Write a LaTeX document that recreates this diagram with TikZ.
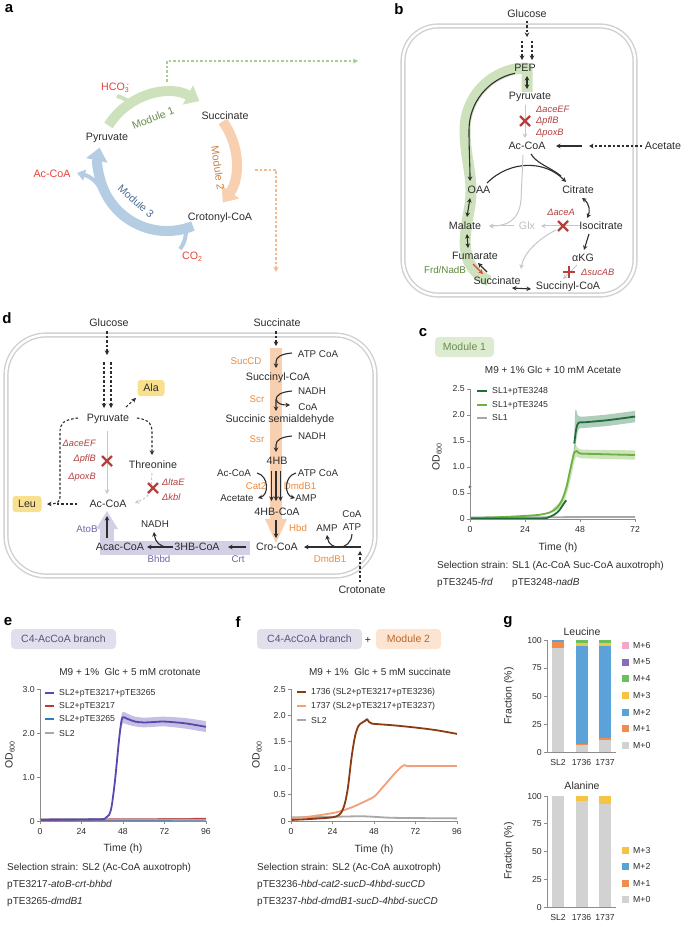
\documentclass[tikz,border=0pt]{standalone}
\usepackage{fontspec}
\setmainfont{Liberation Sans}
\usetikzlibrary{arrows.meta,calc}
\definecolor{txt}{HTML}{2E2E2E}
\definecolor{delred}{HTML}{B5403E}
\definecolor{hotred}{HTML}{E8433A}
\definecolor{enzor}{HTML}{EE8A3C}
\definecolor{purtxt}{HTML}{6E66A8}
\definecolor{gband}{HTML}{CDE2BC}
\definecolor{oband}{HTML}{F8CFAF}
\definecolor{bband}{HTML}{B5CDE3}
\definecolor{pband}{HTML}{D3CFE4}
\definecolor{m1txt}{HTML}{6A8C4C}
\definecolor{m2txt}{HTML}{C98543}
\definecolor{m3txt}{HTML}{4E6E95}
\definecolor{gdash}{HTML}{A9CD8F}
\definecolor{odash}{HTML}{F5BA8E}
\definecolor{cellc}{HTML}{D0D0D0}
\definecolor{ylw}{HTML}{F8E08E}
\definecolor{frdtxt}{HTML}{5F8A3E}
\definecolor{axc}{HTML}{8C8C8C}
\definecolor{dgreen}{HTML}{1E6D3B}
\definecolor{lgreen}{HTML}{6DB13F}
\definecolor{slgray}{HTML}{A8A8A8}
\definecolor{purp}{HTML}{5849B0}
\definecolor{lred}{HTML}{C8323A}
\definecolor{lblue}{HTML}{2D7DBF}
\definecolor{brwn}{HTML}{8C3A12}
\definecolor{salm}{HTML}{F2A07C}
\definecolor{m1box}{HTML}{DDEBD1}
\definecolor{c4box}{HTML}{E2DFEC}
\definecolor{c4txt}{HTML}{55557A}
\definecolor{m2box}{HTML}{FCE4D1}
\definecolor{m2btxt}{HTML}{B8692C}
\definecolor{qm0}{HTML}{D2D2D2}
\definecolor{qm1}{HTML}{F08C4E}
\definecolor{qm2}{HTML}{5AA2D8}
\definecolor{qm3}{HTML}{F5C445}
\definecolor{qm4}{HTML}{6DBE5C}
\definecolor{qm5}{HTML}{8A6BB8}
\definecolor{qm6}{HTML}{F2A8CB}
\newcommand\sbs[1]{\raisebox{-2.2pt}{\fontsize{7}{7}\selectfont #1}}
\tikzset{
 met/.style={font=\fontsize{10.7}{12}\selectfont,text=txt,inner sep=1pt},
 sml/.style={font=\fontsize{9.8}{11}\selectfont,text=txt,inner sep=1pt},
 enz/.style={font=\fontsize{9.7}{11}\selectfont,text=enzor,inner sep=1pt},
 pen/.style={font=\fontsize{9.7}{11}\selectfont,text=purtxt,inner sep=1pt},
 del/.style={font=\fontsize{9.3}{11}\selectfont\itshape,text=delred,inner sep=1pt},
 plab/.style={font=\fontsize{15}{16}\selectfont\bfseries,inner sep=0pt,text=black},
 arr/.style={draw=txt,line width=1.1pt,-{Stealth[length=4.5pt,width=4.5pt]}},
 darr/.style={draw=txt,line width=1.1pt,{Stealth[length=4.5pt,width=4.5pt]}-{Stealth[length=4.5pt,width=4.5pt]}},
 garr/.style={draw=black!22,line width=1pt,-{Stealth[length=4.5pt,width=4.5pt]}},
 dsh/.style={dash pattern=on 2.5pt off 2pt},
 cell/.style={draw=cellc,line width=1.4pt,double=white,double distance=2.4pt},
 axln/.style={draw=axc,line width=0.9pt},
 tk/.style={font=\fontsize{8.7}{10}\selectfont,text=txt,inner sep=1pt},
 leg/.style={font=\fontsize{8.7}{10}\selectfont,text=txt,inner sep=1pt,anchor=west},
 gtitle/.style={font=\fontsize{10}{12}\selectfont,text=txt,inner sep=1pt},
 axl/.style={font=\fontsize{10.5}{12}\selectfont,text=txt,inner sep=1pt},
 captxt/.style={font=\fontsize{10}{12}\selectfont,text=txt,inner sep=1pt,anchor=west},
 tagbox/.style={font=\fontsize{10.5}{12}\selectfont,rounded corners=4pt,inner sep=0pt,minimum height=20pt},
 redx/.pic={\draw[delred,line width=2.4pt] (-5,-5) -- (5,5) (-5,5) -- (5,-5);},
 redplus/.pic={\draw[delred,line width=2.4pt] (0,-6) -- (0,6) (-6,0) -- (6,0);},
}
\begin{document}
\begin{tikzpicture}[x=1pt,y=-1pt,line join=round]
\useasboundingbox (0,0) rectangle (685,925);
\fill[white] (0,0) rectangle (685,925);

% ================= panel a =================
\node[plab] (la) at (9,9) {a};
\coordinate (ca) at (167,162);
\draw[gdash,line width=1.3pt,dsh,-{Stealth[length=5pt,width=5pt]}] (167,82) -- (167,61) -- (358,61);
\draw[odash,line width=1.3pt,dsh,-{Stealth[length=5pt,width=5pt]}] (255,170) -- (276,170) -- (276,272);
\draw[gband,line width=4pt] (117,96) .. controls (124,98) and (129,101) .. (134,106);
\draw[bband,line width=4pt] (180,249) .. controls (184,244) and (186,238) .. (186,230);
\draw[bband,line width=4pt,-{Triangle[width=11pt,length=8pt]}] (101,190) .. controls (97,182) and (92,177) .. (77,173);
\draw[gband,line width=10pt,-{Triangle[width=21pt,length=13pt]}] ($(ca)+(212:69)$) arc[start angle=212,end angle=298,radius=69];
\draw[oband,line width=10pt,-{Triangle[width=21pt,length=13pt]}] ($(ca)+(-36:69)$) arc[start angle=-36,end angle=36,radius=69];
\draw[bband,line width=10pt,-{Triangle[width=21pt,length=13pt]}] ($(ca)+(68:69)$) arc[start angle=68,end angle=192,radius=69];
\node[met,text=hotred] (hco) at (115,88) {HCO\sbs{3}\makebox[0pt][r]{\raisebox{4.5pt}{\fontsize{7}{7}\selectfont -}}};
\node[met] (succA) at (225,116) {Succinate};
\node[met] (pyrA) at (107,138) {Pyruvate};
\node[met,text=hotred] (accoaA) at (52,174) {Ac-CoA};
\node[met] (crotA) at (220,218) {Crotonyl-CoA};
\node[met,text=hotred] (co2) at (192,257) {CO\sbs{2}};
\node[met,text=m1txt,rotate=21] (mod1) at (153,118) {Module 1};
\node[met,text=m2txt,rotate=-82] (mod2) at (218,168) {Module 2};
\node[met,text=m3txt,rotate=-42] (mod3) at (136,201) {Module 3};

% ================= panel b =================
\node[plab] (lb) at (399,9) {b};
\draw[cell,rounded corners=35pt] (403,26) rectangle (635,295);
\draw[gband,line width=11pt] (527,92) -- (527,68) arc[start angle=270,end angle=180,radius=62] .. controls (465,160) and (474,178) .. (470,205) .. controls (466,228) and (462,246) .. (469,262) .. controls (474,272) and (481,277) .. (489,281);
\node[met] (glucB) at (527,14) {Glucose};
\node[met] (pep) at (525,68) {PEP};
\node[met] (pyrB) at (530,97) {Pyruvate};
\node[met] (accoaB) at (527,146) {Ac-CoA};
\node[met] (acetB) at (663,146) {Acetate};
\node[met] (oaa) at (479,190) {OAA};
\node[met] (citr) at (578,190) {Citrate};
\node[met] (mal) at (465,226) {Malate};
\node[met,text=black!25] (glx) at (527,226) {Glx};
\node[met] (isoc) at (601,226) {Isocitrate};
\node[met] (fum) at (475,256) {Fumarate};
\node[met] (akg) at (583,258) {αKG};
\node[met] (succB) at (497,281) {Succinate};
\node[met] (succoaB) at (568,287) {Succinyl-CoA};
\node[sml,text=frdtxt] (frd) at (445,270) {Frd/NadB};
\node[del,anchor=west] (dB1) at (535,109) {ΔaceEF};
\node[del,anchor=west] (dB2) at (535,121) {ΔpflB};
\node[del,anchor=west] (dB3) at (535,133) {ΔpoxB};
\node[del] (dB4) at (561,212) {ΔaceA};
\node[del,anchor=west] (dB5) at (580,272) {ΔsucAB};
\draw[arr,dsh] (527,21) -- (527,37);
\draw[arr,dsh] (522,41) -- (522,60);
\draw[arr,dsh] (532,41) -- (532,60);
\draw[darr] (527,76) -- (527,89);
\draw[garr] (525,105) -- (525,138);
\pic at (525,121) {redx};
\draw[arr] (582,146) -- (556,146);
\draw[arr,dsh] (642,146) -- (589,146);
\draw[arr] ($(527,130)+(258:58)$) arc[start angle=258,end angle=180,radius=58] .. controls (469,150) and (470,166) .. (470,181);
\draw[arr] (487,183) .. controls (510,160) and (545,160) .. (566,182);
\draw[draw=txt,line width=1.1pt] (531,154) .. controls (537,164) and (550,167) .. (561,176);
\draw[garr] (523,155) -- (521,200) .. controls (519,222) and (505,226) .. (489,226);
\draw[garr] (514,226) -- (489,226);
\draw[garr] (580,226) -- (541,226);
\pic at (563,226) {redx};
\draw[garr] (556,230) .. controls (536,240) and (523,255) .. (521,269);
\draw[darr] (582,198) .. controls (590,204) and (590,212) .. (587,218);
\draw[arr] (589,234) -- (584,250);
\draw[garr] (577,265) -- (563,279);
\pic at (569,272) {redplus};
\draw[darr] (512,288) -- (531,289);
\draw[darr] (470,198) -- (467,217);
\draw[darr] (467,234) -- (468,248);
\draw[arr] (487,272) -- (478,263);
\draw[hotred,line width=1.1pt,-{Stealth[length=4.5pt,width=4.5pt]}] (473,264) -- (483,274);

% ================= panel d =================
\node[plab] (ld) at (7,318) {d};
\draw[cell,rounded corners=40pt] (6,335) rectangle (375,576);
\fill[oband] (270,348) rectangle (282,521);
\fill[oband] (265,519) -- (287,519) -- (276,543) -- cycle;
\fill[pband] (100,541) rectangle (250,555);
\fill[pband] (100,527) rectangle (114,555);
\fill[pband] (96,529) -- (118,529) -- (107,511) -- cycle;
\node[met] (glucD) at (109,323) {Glucose};
\node[met,fill=ylw,rounded corners=3pt,minimum width=27pt,minimum height=16pt] (ala) at (151,388) {Ala};
\node[met] (pyrD) at (108,419) {Pyruvate};
\node[met] (thr) at (153,465) {Threonine};
\node[met,fill=ylw,rounded corners=3pt,minimum width=29pt,minimum height=16pt] (leu) at (27,504) {Leu};
\node[met] (accoaD) at (108,504) {Ac-CoA};
\node[sml] (nadhD1) at (155,524) {NADH};
\node[met] (acac) at (120,547) {Acac-CoA};
\node[met] (hbcoa) at (197,547) {3HB-CoA};
\node[met] (crocoa) at (277,547) {Cro-CoA};
\node[pen] (atob) at (87,529) {AtoB};
\node[pen] (bhbd) at (159,559) {Bhbd};
\node[pen] (crt) at (238,559) {Crt};
\node[met] (succD) at (277,323) {Succinate};
\node[sml] (atpcoa1) at (318,354) {ATP CoA};
\node[enz] (succd) at (246,361) {SucCD};
\node[met] (succoaD) at (278,378) {Succinyl-CoA};
\node[sml] (nadh2) at (312,391) {NADH};
\node[sml] (coa2) at (308,407) {CoA};
\node[enz] (scr) at (257,399) {Scr};
\node[met] (ssa) at (280,420) {Succinic semialdehyde};
\node[sml] (nadh3) at (312,436) {NADH};
\node[enz] (ssr) at (257,439) {Ssr};
\node[met] (hb4) at (277,461) {4HB};
\node[sml] (accoa3) at (234,473) {Ac-CoA};
\node[sml] (atpcoa2) at (318,473) {ATP CoA};
\node[enz] (cat2) at (256,486) {Cat2};
\node[enz] (dmdba) at (300,486) {DmdB1};
\node[sml] (acetD) at (237,498) {Acetate};
\node[sml] (amp1) at (306,498) {AMP};
\node[met] (hbcoa4) at (277,512) {4HB-CoA};
\node[enz] (hbd) at (298,528) {Hbd};
\node[sml] (amp2) at (327,528) {AMP};
\node[sml] (coa3) at (352,514) {CoA};
\node[sml] (atp3) at (352,527) {ATP};
\node[enz] (dmdbb) at (330,559) {DmdB1};
\node[met] (crotD) at (362,590) {Crotonate};
\node[del,anchor=east] (dD1) at (97,443) {ΔaceEF};
\node[del,anchor=east] (dD2) at (97,459) {ΔpflB};
\node[del,anchor=east] (dD3) at (97,477) {ΔpoxB};
\node[del,anchor=west] (dD4) at (161,482) {ΔltaE};
\node[del,anchor=west] (dD5) at (161,497) {Δkbl};
\draw[arr,dsh] (107,331) -- (107,355);
\draw[arr,dsh] (104,362) -- (104,408);
\draw[arr,dsh] (111,362) -- (111,408);
\draw[arr,dsh] (126,407) -- (136,398);
\draw[arr,dsh] (78,418) .. controls (63,420) and (60,423) .. (60,433) -- (60,497) .. controls (60,502) and (57,504) .. (47,504);
\draw[draw=txt,line width=1.1pt,dsh] (77,504) -- (56,504);
\draw[arr,dsh] (137,418) .. controls (150,420) and (152,424) .. (152,433) -- (152,455);
\draw[garr] (107,431) -- (107,494);
\pic at (107,461) {redx};
\draw[garr,dsh] (152,473) -- (151,489) .. controls (150,495) and (145,499) .. (135,503);
\pic at (153,488) {redx};
\draw[arr] (107,538) -- (107,516);
\draw[arr] (173,547) -- (147,547);
\draw[arr] (168,547) .. controls (160,547) and (155,542) .. (154,532);
\draw[arr] (246,547) -- (228,547);
\draw[arr] (361,547) -- (304,547);
\draw[arr] (352,534) .. controls (351,551) and (329,551) .. (327,535);
\draw[arr,dsh] (360,582) -- (360,551);
\draw[arr,dsh] (276,331) -- (276,346);
\draw[arr] (292,353) .. controls (281,354) and (276,357) .. (276,362) -- (276,368);
\draw[arr] (292,391) .. controls (281,392) and (276,395) .. (276,400) -- (276,411);
\draw[arr] (276,399) .. controls (277,404) and (282,405) .. (290,405);
\draw[arr] (292,436) .. controls (281,437) and (276,440) .. (276,445) -- (276,452);
\draw[arr] (271.5,471) -- (271.5,501);
\draw[arr] (276,471) -- (276,501);
\draw[arr] (280.5,471) -- (280.5,501);
\draw[arr] (257,473) .. controls (269,476) and (269,495) .. (258,498);
\draw[arr] (296,473) .. controls (284,476) and (284,495) .. (295,498);
\draw[arr] (276,520) -- (276,538);

% ================= panel c =================
\node[plab] (lc) at (423,333) {c};
\node[tagbox,fill=m1box,text=m1txt,minimum width=59pt] (m1c) at (464.5,347) {Module 1};
\node[gtitle] (tc) at (553,370) {M9 + 1\% Glc + 10 mM Acetate};
\begin{scope}[shift={(470,519)},x=2.2917pt,y=52pt]
 \fill[lgreen,opacity=0.35] plot[smooth,tension=0.5] coordinates {(36,0.2)(39,0.32)(41,0.5)(43,0.85)(44.5,1.15)(45.5,1.42)(46.5,1.4)(48,1.34)(55,1.33)(72,1.32)} -- plot[smooth,tension=0.5] coordinates {(72,1.14)(55,1.16)(48,1.17)(46.5,1.2)(45.5,1.1)(44.5,0.88)(43,0.6)(41,0.33)(39,0.2)(36,0.12)} -- cycle;
 \fill[dgreen,opacity=0.35] plot[smooth,tension=0.5] coordinates {(45.5,1.55)(46,2.1)(47.3,1.98)(50,1.97)(60,2.01)(72,2.08)} -- plot[smooth,tension=0.5] coordinates {(72,1.86)(60,1.79)(50,1.75)(47.3,1.72)(46,1.4)(45.5,1.3)} -- cycle;
 \draw[slgray,line width=1.8pt] (0,0.03) -- (72,0.04);
 \draw[lgreen,line width=1.8pt] plot[smooth,tension=0.5] coordinates {(0,0.02)(10,0.03)(20,0.05)(30,0.08)(35,0.13)(38,0.22)(40,0.35)(42,0.6)(43.5,0.9)(44.5,1.1)(45.5,1.28)(46.5,1.31)(48,1.26)(55,1.25)(72,1.23)};
 \draw[dgreen,line width=1.8pt] plot[smooth,tension=0.5] coordinates {(0,0.01)(30,0.01)(34,0.03)(37,0.09)(39,0.17)(41,0.3)(42,0.36)};
 \draw[dgreen,line width=1.8pt] plot[smooth,tension=0.5] coordinates {(45.5,1.45)(46.3,1.72)(47.3,1.85)(50,1.86)(60,1.9)(72,1.97)};
 \fill[dgreen] (0,0.62) circle (1.5pt);
 \draw[axln] (0,2.5) -- (0,0) -- (72,0);
 \foreach \v/\l in {0/0,0.5/0.5,1/1.0,1.5/1.5,2/2.0,2.5/2.5} {\draw[axln] (0,\v) -- ++(-3pt,0); \node[tk,anchor=east] at ([xshift=-4pt]0,\v) {\l};}
 \foreach \t in {0,24,48,72} {\draw[axln] (\t,0) -- ++(0,-3pt); \node[tk,anchor=north] at ([yshift=-6pt]\t,0) {\t};}
\end{scope}
\draw[dgreen,line width=2.5pt] (477,391) -- (487,391);
\draw[lgreen,line width=2.5pt] (477,405) -- (487,405);
\draw[slgray,line width=2.5pt] (477,418) -- (487,418);
\node[leg] (lc1) at (491,391) {SL1+pTE3248};
\node[leg] (lc2) at (491,405) {SL1+pTE3245};
\node[leg] (lc3) at (491,418) {SL1};
\node[axl,rotate=90] (odc) at (437,457) {OD\sbs{600}};
\node[axl] (timec) at (558,548) {Time (h)};
\node[captxt] (capc1) at (436,566) {Selection strain: SL1 (Ac-CoA Suc-CoA auxotroph)};
\node[captxt] (capc2) at (436,583) {pTE3245-\textit{frd}};
\node[captxt] (capc3) at (511,583) {pTE3248-\textit{nadB}};

% ================= panel e =================
\node[plab] (le) at (8,622) {e};
\node[tagbox,fill=c4box,text=c4txt,minimum width=105pt] (c4e) at (63.5,639) {C4-AcCoA branch};
\node[gtitle] (te) at (130,672) {M9 + 1\%\ \ Glc + 5 mM crotonate};
\begin{scope}[shift={(40,821)},x=1.729pt,y=44pt]
 \fill[purp,opacity=0.35] plot[smooth,tension=0.5] coordinates {(43.4,1.05)(45.7,1.95)(47,2.38)(48,2.48)(50,2.45)(55,2.37)(60,2.35)(66,2.36)(72,2.37)(84,2.34)(96,2.27)} -- plot[smooth,tension=0.5] coordinates {(96,2.02)(84,2.1)(72,2.15)(66,2.14)(60,2.13)(55,2.15)(50,2.2)(48,2.22)(47,2.1)(45.7,1.72)(43.4,0.8)} -- cycle;
 \draw[lblue,line width=1.8pt] (0,0.02) -- (96,0.02);
 \draw[lred,line width=1.8pt] (0,0.03) -- (60,0.04) -- (96,0.05);
 \draw[slgray,line width=1.8pt] (0,0.04) -- (96,0.03);
 \draw[purp,line width=1.8pt] plot[smooth,tension=0.5] coordinates {(0,0.03)(34,0.04)(38,0.07)(40,0.14)(41.5,0.35)(43.4,0.93)(45.7,1.84)(47,2.25)(48,2.36)(50,2.33)(55,2.26)(60,2.24)(66,2.25)(72,2.26)(84,2.22)(96,2.14)};
 \draw[axln] (0,3) -- (0,0) -- (96,0);
 \foreach \v/\l in {0/0,1/1.0,2/2.0,3/3.0} {\draw[axln] (0,\v) -- ++(-3pt,0); \node[tk,anchor=east] at ([xshift=-4pt]0,\v) {\l};}
 \foreach \t in {0,24,48,72,96} {\draw[axln] (\t,0) -- ++(0,-3pt); \node[tk,anchor=north] at ([yshift=-6pt]\t,0) {\t};}
\end{scope}
\draw[purp,line width=2.5pt] (45,693) -- (54,693);
\draw[lred,line width=2.5pt] (45,706) -- (54,706);
\draw[lblue,line width=2.5pt] (45,719) -- (54,719);
\draw[slgray,line width=2.5pt] (45,733) -- (54,733);
\node[leg] (le1) at (58,693) {SL2+pTE3217+pTE3265};
\node[leg] (le2) at (58,706) {SL2+pTE3217};
\node[leg] (le3) at (58,719) {SL2+pTE3265};
\node[leg] (le4) at (58,733) {SL2};
\node[axl,rotate=90] (ode) at (10,755) {OD\sbs{600}};
\node[axl] (timee) at (123,849) {Time (h)};
\node[captxt] (cape1) at (6,868) {Selection strain: SL2 (Ac-CoA auxotroph)};
\node[captxt] (cape2) at (6,885) {pTE3217-\textit{atoB-crt-bhbd}};
\node[captxt] (cape3) at (6,902) {pTE3265-\textit{dmdB1}};

% ================= panel f =================
\node[plab] (lf) at (238,622) {f};
\node[tagbox,fill=c4box,text=c4txt,minimum width=105pt] (c4f) at (309.5,639) {C4-AcCoA branch};
\node[axl] (plusf) at (368,640) {+};
\node[tagbox,fill=m2box,text=m2btxt,minimum width=65pt] (m2f) at (408.5,639) {Module 2};
\node[gtitle] (tf) at (380,672) {M9 + 1\%\ \ Glc + 5 mM succinate};
\begin{scope}[shift={(291,821)},x=1.729pt,y=52.8pt]
 \draw[slgray,line width=1.8pt] plot[smooth,tension=0.5] coordinates {(0,0.07)(24,0.08)(40,0.09)(48,0.08)(60,0.06)(96,0.05)};
 \draw[salm,line width=1.8pt] plot[smooth,tension=0.5] coordinates {(0,0.05)(12,0.09)(24,0.15)(30,0.2)(36,0.27)(42,0.36)(48,0.46)(52,0.6)(56,0.75)(60,0.9)(64,1.03)(65.5,1.06)(67,1.04)(72,1.04)(96,1.04)};
 \draw[brwn,line width=1.8pt] plot[smooth,tension=0.5] coordinates {(0,0.02)(12,0.04)(24,0.07)(28,0.12)(30,0.22)(31.5,0.38)(33,0.65)(35,1.2)(37,1.6)(39,1.8)(41,1.86)(43,1.9)(44,1.93)(45,1.88)(46.5,1.85)(48,1.84)(60,1.81)(72,1.77)(84,1.72)(96,1.65)};
 \draw[axln] (0,2.5) -- (0,0) -- (96,0);
 \foreach \v/\l in {0/0,0.5/0.5,1/1.0,1.5/1.5,2/2.0,2.5/2.5} {\draw[axln] (0,\v) -- ++(-3pt,0); \node[tk,anchor=east] at ([xshift=-4pt]0,\v) {\l};}
 \foreach \t in {0,24,48,72,96} {\draw[axln] (\t,0) -- ++(0,-3pt); \node[tk,anchor=north] at ([yshift=-6pt]\t,0) {\t};}
\end{scope}
\draw[brwn,line width=2.5pt] (297,692) -- (306,692);
\draw[salm,line width=2.5pt] (297,706) -- (306,706);
\draw[slgray,line width=2.5pt] (297,720) -- (306,720);
\node[leg] (lf1) at (310,692) {1736 (SL2+pTE3217+pTE3236)};
\node[leg] (lf2) at (310,706) {1737 (SL2+pTE3217+pTE3237)};
\node[leg] (lf3) at (310,720) {SL2};
\node[axl,rotate=90] (odf) at (257,755) {OD\sbs{600}};
\node[axl] (timef) at (374,850) {Time (h)};
\node[captxt] (capf1) at (256,868) {Selection strain: SL2 (Ac-CoA auxotroph)};
\node[captxt] (capf2) at (256,885) {pTE3236-\textit{hbd-cat2-sucD-4hbd-sucCD}};
\node[captxt] (capf3) at (256,902) {pTE3237-\textit{hbd-dmdB1-sucD-4hbd-sucCD}};

% ================= panel g =================
\node[plab] (lg) at (508,622) {g};
\node[axl] (leut) at (582,632) {Leucine};
\begin{scope}[shift={(547,752)},x=1pt,y=1.12pt]
 \foreach \xc/\a/\b/\cc in {11/0/93/qm0,11/93/98.5/qm1,11/98.5/100/qm2,34.5/0/6/qm0,34.5/6/7.5/qm1,34.5/7.5/95/qm2,34.5/95/97.5/qm3,34.5/97.5/100/qm4,58/0/11/qm0,58/11/12.5/qm1,58/12.5/94.5/qm2,58/94.5/97/qm3,58/97/100/qm4}
   \fill[\cc] ({\xc-6},\a) rectangle ({\xc+6},\b);
 \draw[axln] (0,100) -- (0,0) -- (69,0);
 \foreach \v in {0,25,50,75,100} {\draw[axln] (0,\v) -- ++(-3pt,0); \node[tk,anchor=east] at ([xshift=-4pt]0,\v) {\v};}
 \foreach \xc/\l in {11/SL2,34.5/1736,58/1737} \node[tk,anchor=north] at ([yshift=-6pt]\xc,0) {\l};
\end{scope}
\node[axl,rotate=90] (frl) at (509,696) {Fraction (\%)};
\foreach \yy/\cc/\ll in {645/qm6/M+6,662/qm5/M+5,678/qm4/M+4,695/qm3/M+3,712/qm2/M+2,728/qm1/M+1,745/qm0/M+0} {
 \fill[\cc] (622,{\yy-3.5}) rectangle (629,{\yy+3.5});
 \node[leg] at (632,\yy) {\ll};
}
\node[axl] (alat) at (582,786) {Alanine};
\begin{scope}[shift={(547,907)},x=1pt,y=1.11pt]
 \foreach \xc/\a/\b/\cc in {11/0/100/qm0,34.5/0/95.5/qm0,34.5/95.5/100/qm3,58/0/92.5/qm0,58/92.5/100/qm3}
   \fill[\cc] ({\xc-6},\a) rectangle ({\xc+6},\b);
 \draw[axln] (0,100) -- (0,0) -- (69,0);
 \foreach \v in {0,25,50,75,100} {\draw[axln] (0,\v) -- ++(-3pt,0); \node[tk,anchor=east] at ([xshift=-4pt]0,\v) {\v};}
 \foreach \xc/\l in {11/SL2,34.5/1736,58/1737} \node[tk,anchor=north] at ([yshift=-6pt]\xc,0) {\l};
\end{scope}
\node[axl,rotate=90] (fra) at (509,851) {Fraction (\%)};
\foreach \yy/\cc/\ll in {850/qm3/M+3,866/qm2/M+2,883/qm1/M+1,899/qm0/M+0} {
 \fill[\cc] (622,{\yy-3.5}) rectangle (629,{\yy+3.5});
 \node[leg] at (632,\yy) {\ll};
}
\end{tikzpicture}
\end{document}
